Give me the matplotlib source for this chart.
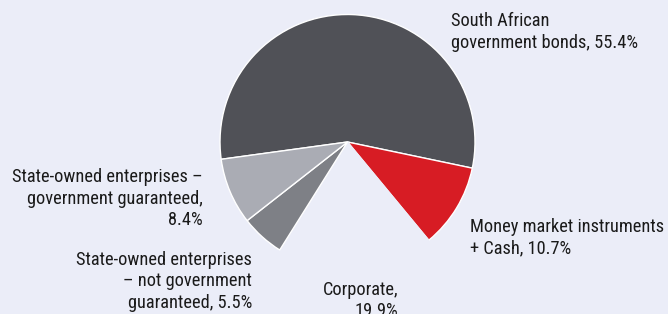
import matplotlib
matplotlib.use('Agg')
import matplotlib.pyplot as plt

# Portfolio composition (%)
labels = ['South African government bonds', 'Money market instruments + Cash',
          'Corporate', 'State-owned enterprises - not government guaranteed',
          'State-owned enterprises - government guaranteed']
shares = [55.4, 10.7, 19.9, 5.5, 8.4]

label_lines = [
    ['South African', 'government bonds, 55.4%'],
    ['Money market instruments', '+ Cash, 10.7%'],
    ['Corporate,', '19.9%'],
    ['State-owned enterprises', '\u2013 not government', 'guaranteed, 5.5%'],
    ['State-owned enterprises \u2013', 'government guaranteed,', '8.4%'],
]

bg = '#ebedf8'
colors = ['#505157', '#d71c24', bg, '#7e8086', '#aaacb4']

plt.rcParams['font.family'] = ['Roboto Condensed', 'DejaVu Sans']

W, H = 668, 314
fig = plt.figure(figsize=(W / 100, H / 100), dpi=100, facecolor=bg)
ax = fig.add_axes([0, 0, 1, 1])
ax.set_facecolor(bg)

wedges, _ = ax.pie(shares, colors=colors, startangle=187.8, counterclock=False,
                   center=(347.5, H - 142), radius=127.5,
                   wedgeprops=dict(edgecolor='white', linewidth=1.0))
wedges[2].set_edgecolor(bg)

ax.set_xlim(0, W)
ax.set_ylim(0, H)
ax.set_aspect('equal')
ax.axis('off')

# label anchor: x, baseline of first line (pixels from top), alignment
anchors = [(451, 26, 'left'), (470, 232, 'left'), (398, 295, 'right'),
           (252, 265, 'right'), (203, 182, 'right')]
step = 21.5
for lines, (x, y0, ha) in zip(label_lines, anchors):
    for i, line in enumerate(lines):
        ax.text(x, H - (y0 + i * step), line, ha=ha, va='baseline',
                fontsize=13.2, color='#1a1a1a')

fig.savefig('out.png', facecolor=bg)
